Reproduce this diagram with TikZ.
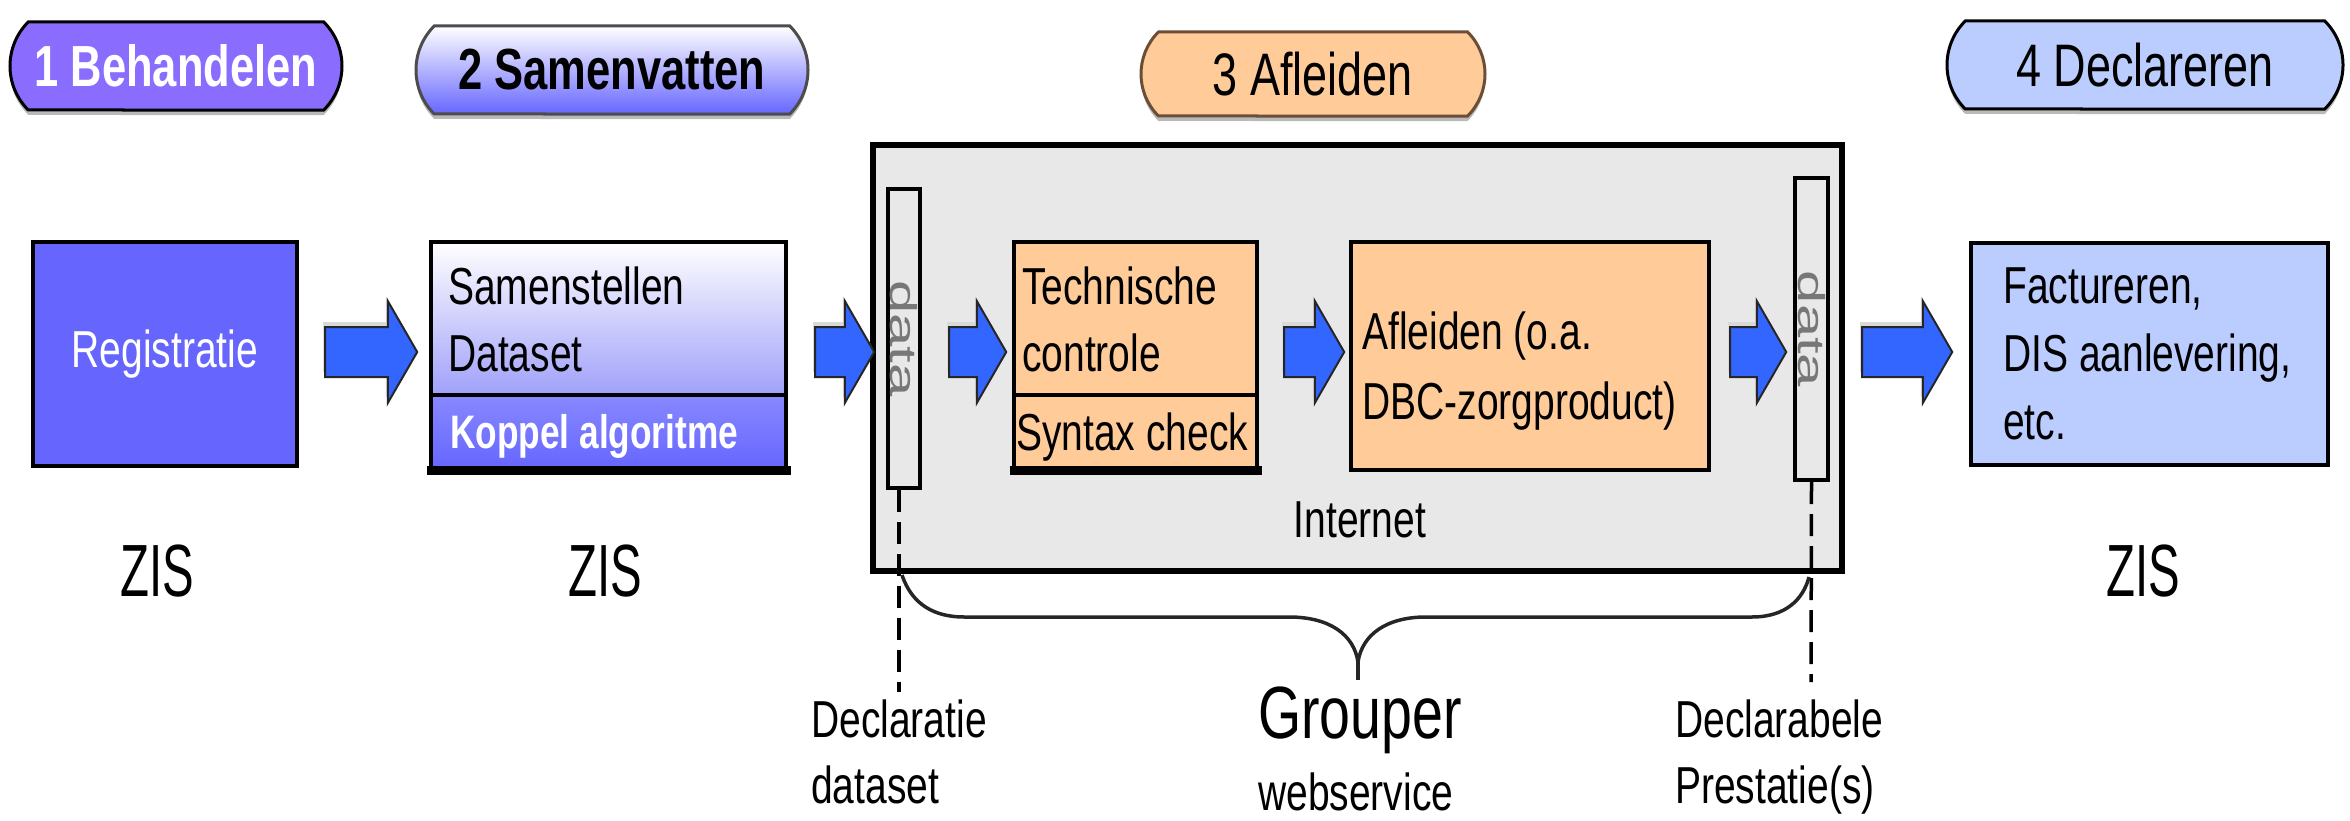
\documentclass[tikz,border=0pt]{standalone}
\usepackage{fontspec}
\setmainfont[FakeStretch=0.75]{Liberation Sans}
\newfontfamily\datafont{Liberation Sans}
\newfontfamily\zisfont[FakeStretch=0.64]{Liberation Sans}
\usepackage{tikz}
\usepackage{xcolor}
\usepackage{graphicx}
\usetikzlibrary{shadows,shapes,arrows,positioning,calc}

\definecolor{regblue}{HTML}{6666FF}
\definecolor{pillpurple}{HTML}{8A6CFF}
\definecolor{netgray}{HTML}{E8E8E8}
\definecolor{afloranje}{HTML}{FFCC99}
\definecolor{decblue}{HTML}{BBCCFF}
\definecolor{arrowblue}{HTML}{3366FF}
\definecolor{samlight}{HTML}{A0A0FA}
\definecolor{samdark}{HTML}{8888FF}
\definecolor{brownline}{HTML}{6B4E35}
\definecolor{datagray}{HTML}{777777}

\tikzset{
  pill/.style={rounded rectangle, rounded rectangle arc length=90, minimum height=88pt,
    line width=3pt, inner sep=0pt, general shadow={fill=gray!55, shadow yshift=-5pt}},
  box/.style={rectangle, draw=black, line width=4.5pt, inner sep=0pt},
  blockarrow/.style={single arrow, fill=arrowblue, draw=black!85, line width=2pt,
    inner xsep=0pt, inner ysep=24pt, single arrow head extend=26pt, single arrow tip angle=120,
    general shadow={fill=gray!30, shadow xshift=-2pt, shadow yshift=5pt}},
  txt/.style={inner sep=0pt, align=left, font=\fontsize{52}{67}\selectfont},
  bigtxt/.style={inner sep=0pt, font=\fontsize{74}{80}\selectfont},
  zistxt/.style={inner sep=0pt, font=\zisfont\fontsize{74}{80}\selectfont},
  datatxt/.style={inner sep=0pt, rotate=-90, text=datagray, font=\datafont\fontsize{52}{52}\selectfont},
  dashline/.style={line width=3.5pt, dash pattern=on 22pt off 10pt},
  bracket/.style={line width=3.5pt, black!85}
}

\begin{document}
\begin{tikzpicture}[x=1pt,y=-1pt]
\useasboundingbox (0,0) rectangle (2350,821);

% fasen
\node[pill, fill=pillpurple, draw=black, minimum width=332pt, text=white,
  font=\fontsize{58}{60}\selectfont\bfseries] (behandelen) at (176,66) {1 Behandelen};
\node[pill, top color=white, bottom color=regblue, draw=gray!60!black, minimum width=392pt,
  font=\fontsize{58}{60}\selectfont\bfseries] (samenvatten) at (612,70) {2 Samenvatten};
\node[pill, fill=afloranje, draw=brownline, minimum width=344pt, minimum height=84pt,
  font=\fontsize{60}{62}\selectfont] (afleiden) at (1313,74) {3 Afleiden};
\node[pill, fill=decblue, draw=black, minimum width=396pt,
  font=\fontsize{60}{62}\selectfont] (declareren) at (2145,65) {4 Declareren};

% internet
\node[box, fill=netgray, line width=5.5pt, minimum width=969pt, minimum height=426pt] (internet) at (1357.5,358) {};
\node[txt] (internetlabel) at (1360,520) {Internet};

% ZIS
\node[box, fill=regblue, minimum width=264pt, minimum height=224pt, text=white,
  font=\fontsize{52}{60}\selectfont] (registratie) at (165,354) {Registratie};

\node[box, top color=white, bottom color=samlight, minimum width=355pt, minimum height=153pt] (samtop) at (608.5,318.5) {};
\node[box, top color=samdark, bottom color=regblue, minimum width=355pt, minimum height=73pt] (samlow) at (608.5,431.5) {};
\draw[line width=9pt] ([xshift=-2.25pt]samlow.south west) -- ([xshift=2.25pt]samlow.south east);
\node[txt, anchor=north west] (samtext) at (448,267) {Samenstellen\\Dataset};
\node[txt, anchor=north west, text=white, font=\fontsize{47}{60}\selectfont\bfseries] (koppel) at (450,414) {Koppel algoritme};

% grouper
\node[box, fill=netgray, line width=4pt, minimum width=32pt, minimum height=299pt] (data1) at (904,338.5) {};
\node[datatxt] (data1txt) at (data1) {\scalebox{1.15}[0.72]{data}};

\node[box, fill=afloranje, minimum width=243pt, minimum height=153pt] (techtop) at (1135.5,318.5) {};
\node[box, fill=afloranje, minimum width=243pt, minimum height=73pt] (techlow) at (1135.5,431.5) {};
\draw[line width=9pt] ([xshift=-2.25pt]techlow.south west) -- ([xshift=2.25pt]techlow.south east);
\node[txt, anchor=north west] (techtext) at (1022,267) {Technische\\controle};
\node[txt, anchor=north west] (syntax) at (1016,413) {Syntax check};

\node[box, fill=afloranje, minimum width=358pt, minimum height=228pt] (afl) at (1530,356) {};
\node[txt, anchor=north west, font=\fontsize{52}{70}\selectfont] (afltext) at (1362,312) {Afleiden (o.a.\\DBC-zorgproduct)};

\node[box, fill=netgray, line width=4pt, minimum width=33pt, minimum height=302pt] (data2) at (1811.5,329) {};
\node[datatxt] (data2txt) at (data2) {\scalebox{1.15}[0.72]{data}};

% declareren
\node[box, fill=decblue, minimum width=357pt, minimum height=222pt] (fac) at (2149.5,354) {};
\node[txt, anchor=north west, font=\fontsize{52}{68}\selectfont] (factext) at (2003,268) {Factureren,\\DIS aanlevering,\\etc.};

% pijlen
\node[blockarrow, minimum height=92pt] (a1) at (364,352) {};
\node[blockarrow, minimum height=59pt] (a2) at (837.5,352) {};
\node[blockarrow, minimum height=57pt] (a3) at (970.5,352) {};
\node[blockarrow, minimum height=60pt] (a4) at (1307,352) {};
\node[blockarrow, minimum height=56pt] (a5) at (1751,352) {};
\node[blockarrow, minimum height=90pt] (a6) at (1900,352) {};

\node[zistxt] (zis1) at (157,571) {ZIS};
\node[zistxt] (zis2) at (605,571) {ZIS};
\node[zistxt] (zis3) at (2143,571) {ZIS};

% onderkant
\coordinate (dash1end) at (899,692);
\coordinate (dash2end) at (1811,682);
\draw[dashline] ([xshift=-5pt]data1.south) -- (dash1end);
\draw[dashline] (data2.south) -- (dash2end);

\draw[bracket] (902,575) .. controls (912,605) and (935,617) .. (964,617) -- (1289,617)
  .. controls (1330,617) and (1354,635) .. (1358,662)
  .. controls (1362,635) and (1386,617) .. (1426,617) -- (1752,617)
  .. controls (1785,617) and (1803,600) .. (1809,577);
\draw[bracket] (1358,662) -- (1358,680);

\node[txt, anchor=north west, font=\fontsize{52}{66}\selectfont] (declaratie) at (811,700) {Declaratie\\dataset};
\node[bigtxt, anchor=north west] (grouper) at (1258,687) {Grouper};
\node[txt, anchor=north west] (webservice) at (1258,773) {webservice};
\node[txt, anchor=north west, font=\fontsize{52}{66}\selectfont] (declarabele) at (1675,700) {Declarabele\\Prestatie(s)};
\end{tikzpicture}
\end{document}
